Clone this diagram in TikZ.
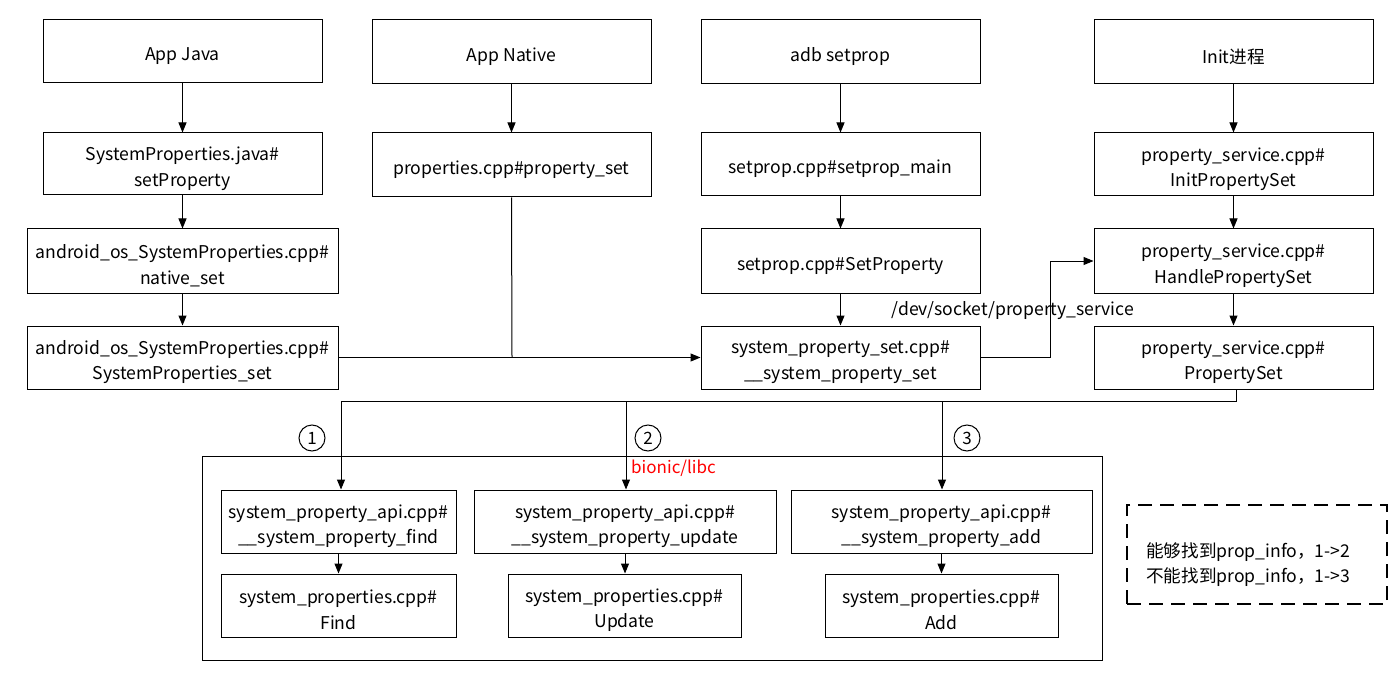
\documentclass[tikz,border=0pt]{standalone}
\usepackage{fontspec}
\setmainfont{Noto Sans CJK SC}
\usetikzlibrary{arrows.meta}
\newcommand{\dn}[1]{\raisebox{-4.5pt}[\height][\depth]{#1}}
\begin{document}
\begin{tikzpicture}[x=1pt,y=-1pt,
  box/.style={draw,line width=1pt,align=center,inner sep=0pt,font=\fontsize{17.6}{25.5}\selectfont},
  arr/.style={line width=1pt,-{Triangle[length=10pt,width=8pt]}},
  ln/.style={line width=1pt},
  num/.style={draw,circle,line width=1pt,minimum size=26pt,inner sep=0pt,font=\fontsize{17}{18}\selectfont}]
\useasboundingbox[fill=white] (0,0) rectangle (1400,679);
% row 1
\node[box,minimum width=279pt,minimum height=63pt] (java) at (182.5,51.5) {\dn{App Java}};
\node[box,minimum width=279pt,minimum height=64pt] (native) at (511.5,52) {\dn{App Native}};
\node[box,minimum width=279pt,minimum height=64pt] (adb) at (840.5,52) {\dn{adb setprop}};
\node[box,minimum width=279pt,minimum height=64pt] (init) at (1233.5,52) {\dn{Init进程}};
% row 2
\node[box,minimum width=279pt,minimum height=62pt] (sysjava) at (182.5,164) {\dn{SystemProperties.java\#}\\\dn{setProperty}};
\node[box,minimum width=279pt,minimum height=64pt] (propset) at (511.5,165) {\dn{properties.cpp\#property\_set}};
\node[box,minimum width=279pt,minimum height=63pt] (spmain) at (840.5,164.5) {\dn{setprop.cpp\#setprop\_main}};
\node[box,minimum width=279pt,minimum height=63pt] (initps) at (1233.5,164.5) {\dn{property\_service.cpp\#}\\\dn{InitPropertySet}};
% row 3
\node[box,minimum width=311pt,minimum height=64pt] (nset) at (182.5,261) {\dn{android\_os\_SystemProperties.cpp\#}\\\dn{native\_set}};
\node[box,minimum width=279pt,minimum height=64pt] (spset) at (840.5,261) {\dn{setprop.cpp\#SetProperty}};
\node[box,minimum width=279pt,minimum height=64pt] (handle) at (1233.5,261) {\dn{property\_service.cpp\#}\\\dn{HandlePropertySet}};
% row 4
\node[box,minimum width=311pt,minimum height=63pt] (jset) at (182.5,357.5) {\dn{android\_os\_SystemProperties.cpp\#}\\\dn{SystemProperties\_set}};
\node[box,minimum width=279pt,minimum height=63pt] (sysset) at (840.5,357.5) {\dn{system\_property\_set.cpp\#}\\\dn{\_\_system\_property\_set}};
\node[box,minimum width=279pt,minimum height=63pt] (pset) at (1233.5,357.5) {\dn{property\_service.cpp\#}\\\dn{PropertySet}};
% container
\node[draw,line width=1pt,minimum width=900pt,minimum height=204pt,inner sep=0pt] (libc) at (652,558) {};
\node[text=red,font=\fontsize{17}{18}\selectfont,inner sep=0pt] (libclabel) at (673.5,468) {bionic/libc};
\node[box,minimum width=235pt,minimum height=63pt] (find) at (338.5,521.5) {\dn{system\_property\_api.cpp\#}\\\dn{\_\_system\_property\_find}};
\node[box,minimum width=302pt,minimum height=63pt] (update) at (625,521.5) {\dn{system\_property\_api.cpp\#}\\\dn{\_\_system\_property\_update}};
\node[box,minimum width=301pt,minimum height=63pt] (add) at (941.5,521.5) {\dn{system\_property\_api.cpp\#}\\\dn{\_\_system\_property\_add}};
\node[box,minimum width=235pt,minimum height=63pt] (sfind) at (338.5,605.5) {\dn{system\_properties.cpp\#}\\\dn{Find}};
\node[box,minimum width=233pt,minimum height=63pt] (supdate) at (624.5,605.5) {\dn{system\_properties.cpp\#}\\\dn{Update}};
\node[box,minimum width=233pt,minimum height=63pt] (sadd) at (941.5,605.5) {\dn{system\_properties.cpp\#}\\\dn{Add}};
% note
\node[draw,dashed,dash pattern=on 14pt off 8pt,line width=1.3pt,minimum width=260pt,minimum height=99pt,inner sep=0pt] (note) at (1257,554.5) {};
\node[align=left,inner sep=0pt,anchor=west,font=\fontsize{17.6}{25.5}\selectfont] (notetext) at (1146,560) {\dn{能够找到prop\_info，1->2}\\\dn{不能找到prop\_info，1->3}};
% circled numbers
\node[num] (n1) at (312,438) {1};
\node[num] (n2) at (648,438) {2};
\node[num] (n3) at (967,438) {3};
% vertical arrows
\draw[arr] (java) -- (sysjava);
\draw[arr] (sysjava) -- (nset);
\draw[arr] (nset) -- (jset);
\draw[arr] (native) -- (propset);
\draw[arr] (adb) -- (spmain);
\draw[arr] (spmain) -- (spset);
\draw[arr] (spset) -- (sysset);
\draw[arr] (init) -- (initps);
\draw[arr] (initps) -- (handle);
\draw[arr] (handle) -- (pset);
% merge into __system_property_set
\coordinate (join) at (512,357.5);
\draw[arr] (jset.east) -- (sysset.west);
\draw[ln] (propset.south) -- (join);
% socket
\coordinate (s1) at (1050,357.5);
\coordinate (s2) at (1050,261);
\draw[arr] (sysset.east) -- (s1) -- (s2) -- (handle.west);
\node[font=\fontsize{17.6}{20}\selectfont,inner sep=0pt] (sock) at (1013,311) {/dev/socket/property\_service};
% bus
\coordinate (bus0) at (1236,401);
\coordinate (b1) at (341,401);
\coordinate (b2) at (626,401);
\coordinate (b3) at (942,401);
\draw[ln] (pset.south -| bus0) -- (bus0) -- (b1);
\draw[arr] (b1) -- (b1 |- find.north);
\draw[arr] (b2) -- (b2 |- update.north);
\draw[arr] (b3) -- (b3 |- add.north);
\draw[arr] (find.south) -- (find.south |- sfind.north);
\draw[arr] (update.south) -- (update.south |- supdate.north);
\draw[arr] (add.south) -- (add.south |- sadd.north);
\end{tikzpicture}
\end{document}
